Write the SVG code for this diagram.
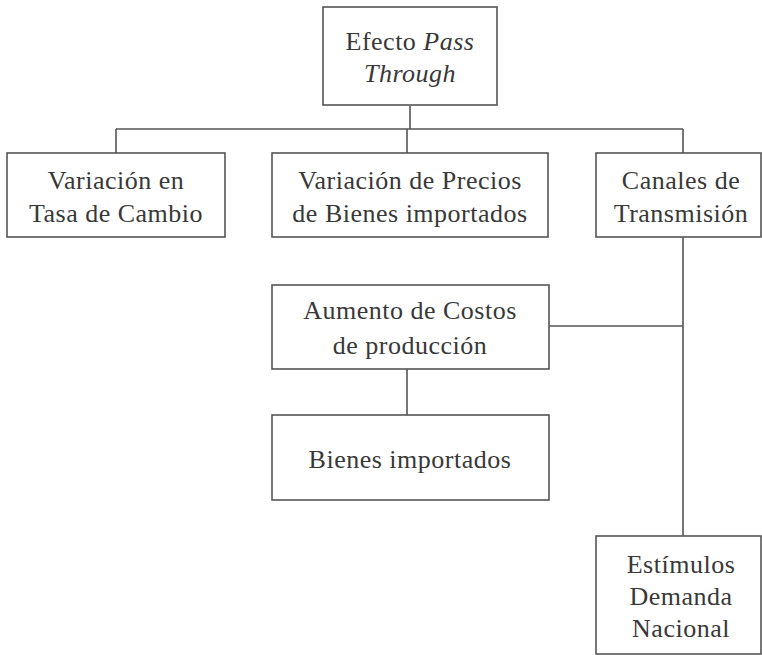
<svg xmlns="http://www.w3.org/2000/svg" width="762" height="655" viewBox="0 0 762 655">
<style>
.box{fill:#fff;stroke:#555;stroke-width:1.6}
.ln{fill:none;stroke:#555;stroke-width:1.6}
text{font-family:"Liberation Serif","Times New Roman",serif;font-size:26px;letter-spacing:0.5px;fill:#383838;text-anchor:middle}
</style>
<rect width="762" height="655" fill="#fff"/>
<g id="connectors">
<path class="ln" d="M410 106V129M116 129H683M116 129V153M407 129V153M683 129V153"/>
<path class="ln" d="M683 237V536M549 326H683M407 369V415"/>
</g>
<g id="n-efecto"><rect class="box" x="323" y="7" width="174" height="98"/><text x="410" y="50">Efecto <tspan font-style="italic">Pass</tspan></text><text x="410" y="82" font-style="italic">Through</text></g>
<g id="n-tasa"><rect class="box" x="7" y="153" width="218" height="84"/><text x="116" y="189">Variación en</text><text x="116" y="222">Tasa de Cambio</text></g>
<g id="n-precios"><rect class="box" x="272" y="153" width="276" height="84"/><text x="410" y="189">Variación de Precios</text><text x="410" y="222">de Bienes importados</text></g>
<g id="n-canales"><rect class="box" x="596" y="153" width="165" height="84"/><text x="681" y="189">Canales de</text><text x="681" y="222">Transmisión</text></g>
<g id="n-aumento"><rect class="box" x="272" y="285" width="277" height="84"/><text x="410" y="319">Aumento de Costos</text><text x="410" y="354">de producción</text></g>
<g id="n-bienes"><rect class="box" x="272" y="415" width="277" height="85"/><text x="410" y="468">Bienes importados</text></g>
<g id="n-estimulos"><rect class="box" x="596" y="536" width="165" height="118"/><text x="681" y="573">Estímulos</text><text x="681" y="605">Demanda</text><text x="681" y="637">Nacional</text></g>
</svg>
